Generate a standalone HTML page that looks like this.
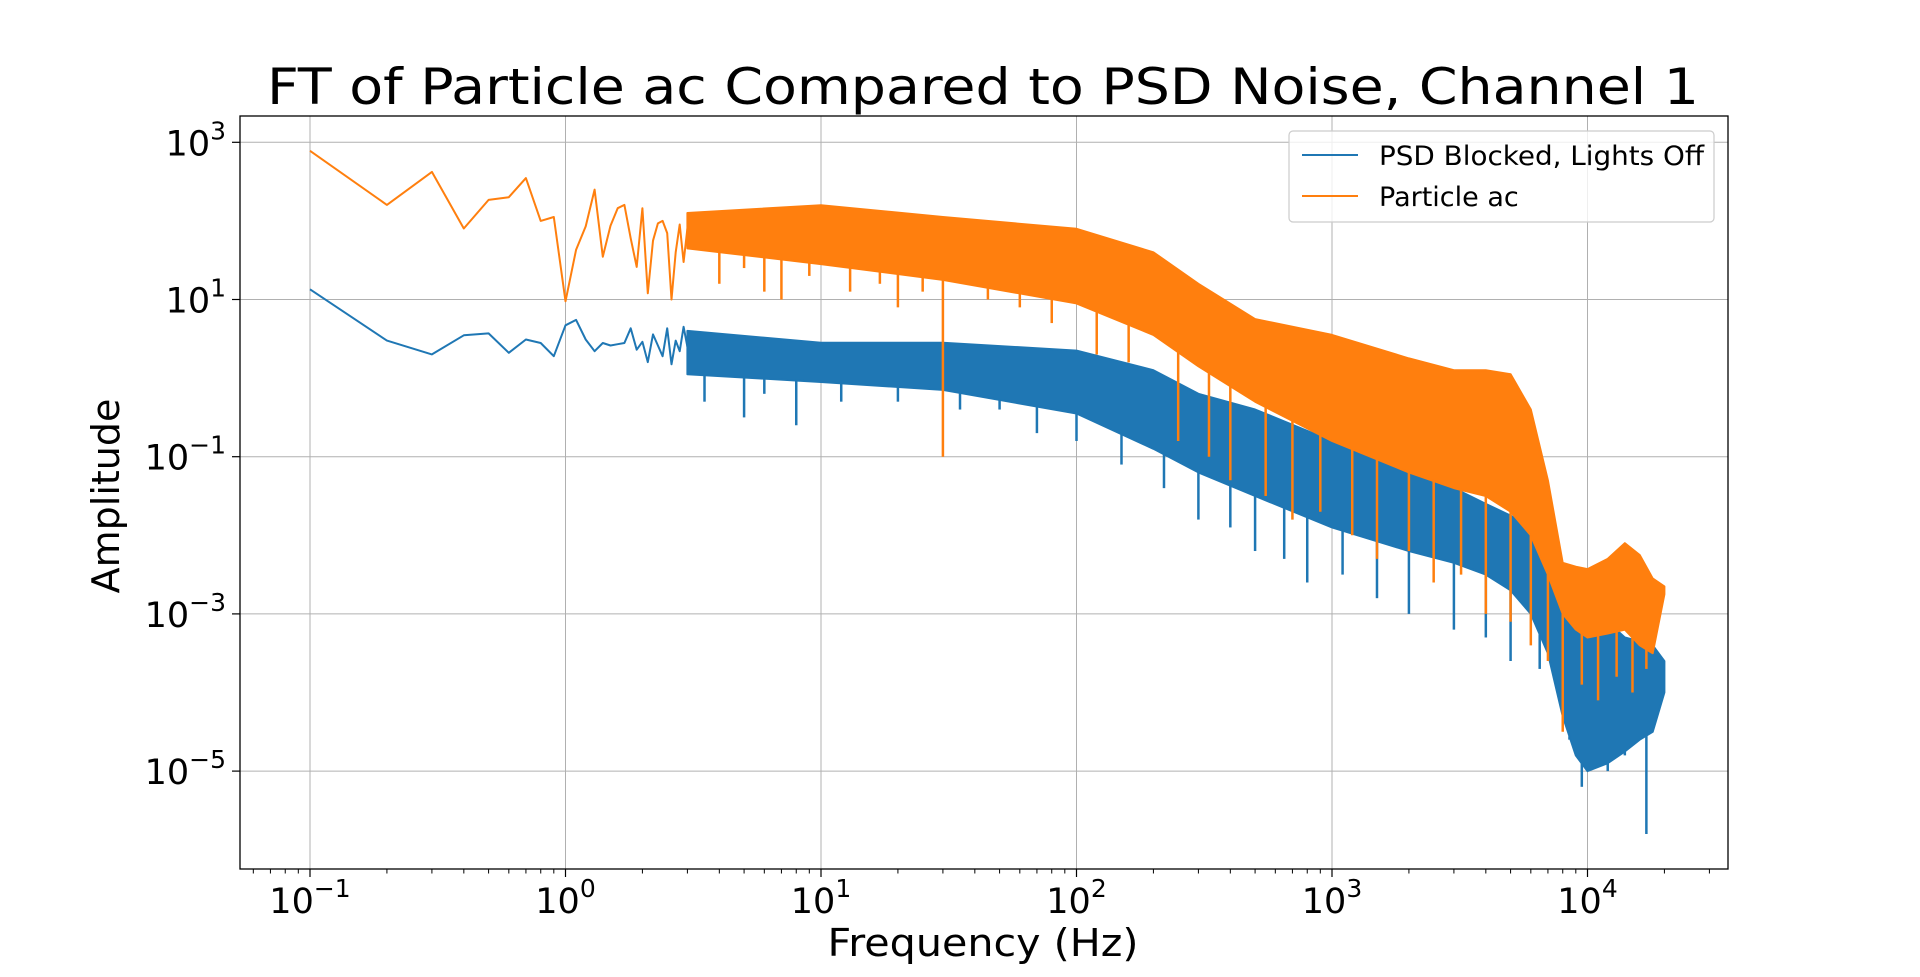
<!DOCTYPE html>
<html><head><meta charset="utf-8"><style>
html,body{margin:0;padding:0;background:#fff;}
svg{display:block;font-family:"DejaVu Sans","Liberation Sans",sans-serif;}
</style></head><body>
<svg id="chart" width="1920" height="977" viewBox="0 0 1920 977" xmlns="http://www.w3.org/2000/svg">
<rect width="1920" height="977" fill="#fff"/>
<text x="983" y="104" font-size="50" text-anchor="middle" textLength="1432" lengthAdjust="spacingAndGlyphs">FT of Particle ac Compared to PSD Noise, Channel 1</text>
<g id="grid"></g>
<g id="plot"></g>
<g id="axes"></g>
<text x="983" y="956" font-size="38" text-anchor="middle" textLength="311" lengthAdjust="spacingAndGlyphs">Frequency (Hz)</text>
<text transform="translate(119,496) rotate(-90)" font-size="38" text-anchor="middle">Amplitude</text>
<g>
<rect x="1289" y="131" width="425" height="91" rx="4" fill="#fff" fill-opacity="0.8" stroke="#ccc" stroke-width="1.2"/>
<line x1="1302" y1="155" x2="1358" y2="155" stroke="#1f77b4" stroke-width="2"/>
<text x="1379" y="165" font-size="27" textLength="325" lengthAdjust="spacingAndGlyphs">PSD Blocked, Lights Off</text>
<line x1="1302" y1="196" x2="1358" y2="196" stroke="#ff7f0e" stroke-width="2"/>
<text x="1379" y="206" font-size="27">Particle ac</text>
</g>
</svg>
<script>
// ---- data ----
const xTickExps = [-1, 0, 1, 2, 3, 4];
const yTickExps = [3, 1, -1, -3, -5];
const orangeLowF = [0.1,0.2,0.3,0.4,0.5,0.6,0.7,0.8,0.9,1.0,1.1,1.2,1.3,1.4,1.5,1.6,1.7,1.8,1.9,2.0,2.1,2.2,2.3,2.4,2.5,2.6,2.7,2.8,2.9,3.0];
const orangeLowA = [780,160,420,80,185,200,350,100,112,9.5,43,85,250,35,87,145,160,60,26,145,12,56,93,100,70,10,40,90,30,80];
const blueLowF = [0.1,0.2,0.3,0.4,0.5,0.6,0.7,0.8,0.9,1.0,1.1,1.2,1.3,1.4,1.5,1.6,1.7,1.8,1.9,2.0,2.1,2.2,2.3,2.4,2.5,2.6,2.7,2.8,2.9,3.0];
const blueLowA = [13.5,3,2.0,3.5,3.7,2.1,3.1,2.8,1.9,4.7,5.5,3.1,2.2,2.8,2.6,2.7,2.8,4.3,2.3,2.9,1.6,3.6,2.6,1.9,4.3,1.5,3.0,2.2,4.5,2.5];
const envF = [3,10,30,100,200,300,500,1000,2000,3000,4000,5000,6000,7000,8000,9000,10000,12000,14000,16000,18000,20000];
const orangeUpper = [2.1,2.2,2.05,1.9,1.6,1.2,0.75,0.55,0.25,0.1,0.1,0.05,-0.4,-1.3,-2.35,-2.4,-2.43,-2.3,-2.1,-2.25,-2.55,-2.65];
const orangeLower = [1.65,1.45,1.25,0.95,0.55,0.15,-0.3,-0.8,-1.2,-1.4,-1.5,-1.7,-2.0,-2.5,-3.0,-3.2,-3.3,-3.25,-3.2,-3.4,-3.5,-2.75];
const blueUpper = [0.6,0.45,0.45,0.35,0.1,-0.2,-0.4,-0.8,-1.2,-1.4,-1.6,-1.75,-1.9,-2.2,-2.5,-2.8,-3.0,-3.1,-3.3,-3.35,-3.4,-3.6];
const blueLower = [0.05,-0.05,-0.15,-0.45,-0.9,-1.2,-1.5,-1.9,-2.2,-2.35,-2.5,-2.7,-3.0,-3.5,-4.3,-4.8,-5.0,-4.9,-4.75,-4.6,-4.5,-4.0];
const orangeSpikeF = [4,5,6,7,9,13,17,20,25,30,45,60,80,120,160,250,330,400,550,700,900,1200,1500,2000,2500,3200,4000,5000,6000,7000,8000,9500,11000,13000,15000,17000];
const orangeSpikeV = [1.2,1.4,1.1,1.0,1.3,1.1,1.2,0.9,1.1,-1.0,1.0,0.9,0.7,0.3,0.2,-0.8,-1.0,-1.3,-1.5,-1.8,-1.7,-2.0,-2.3,-2.2,-2.6,-2.5,-3.0,-3.1,-3.4,-3.6,-4.5,-3.9,-4.1,-3.8,-4.0,-3.7];
const blueSpikeF = [3.5,5,6,8,12,20,35,50,70,100,150,220,300,400,500,650,800,1100,1500,2000,3000,4000,5000,6500,8500,9500,11000,12000,14000,17000];
const blueSpikeV = [-0.3,-0.5,-0.2,-0.6,-0.3,-0.3,-0.4,-0.4,-0.7,-0.8,-1.1,-1.4,-1.8,-1.9,-2.2,-2.3,-2.6,-2.5,-2.8,-3.0,-3.2,-3.3,-3.6,-3.7,-4.6,-5.2,-4.9,-5.0,-4.8,-5.8];

// ---- axes ----
const L=240,R=1728,T=116,B=869;
const X0=310, DX=255.5, Y3=142.3, DY=78.6;
const xs = f => X0 + (Math.log10(f)+1)*DX;
const ysL = v => Y3 + (3-v)*DY;
const ys = a => ysL(Math.log10(a));
const NS="http://www.w3.org/2000/svg";
function mk(tag, attrs, parent){const e=document.createElementNS(NS,tag);for(const k in attrs)e.setAttribute(k,attrs[k]);parent.appendChild(e);return e;}
const grid=document.getElementById('grid'), plot=document.getElementById('plot'), axes=document.getElementById('axes');

xTickExps.forEach(e=>{
  const x=xs(Math.pow(10,e));
  const g=mk('line',{x1:x,y1:T,x2:x,y2:B,stroke:'#b0b0b0','stroke-width':1},grid);
  
  
  const t=mk('line',{x1:x,y1:B,x2:x,y2:B+8,stroke:'#000','stroke-width':1.2},axes);
  
  
  const lab=mk('text',{x:x,y:913,'font-size':35,'text-anchor':'middle'},axes);
  
  
  lab.innerHTML='10<tspan dy="-16" font-size="25">'+(e<0?'\u2212'+(-e):e)+'</tspan>';
});
for(let e=-2;e<=4;e++){for(let m=2;m<=9;m++){const x=xs(m*Math.pow(10,e));if(x<L||x>R)continue;
  const t=mk('line',{x1:x,y1:B,x2:x,y2:B+4.5,stroke:'#000','stroke-width':1},axes);
  
  }}
yTickExps.forEach(e=>{
  const y=ysL(e);
  const g=mk('line',{x1:L,y1:y,x2:R,y2:y,stroke:'#b0b0b0','stroke-width':1},grid);
  
  
  const t=mk('line',{x1:L-8,y1:y,x2:L,y2:y,stroke:'#000','stroke-width':1.2},axes);
  
  
  const lab=mk('text',{x:226,y:y+13,'font-size':35,'text-anchor':'end'},axes);
  
  
  lab.innerHTML='10<tspan dy="-16" font-size="25">'+(e<0?'\u2212'+(-e):e)+'</tspan>';
});
const frame=mk('rect',{x:L,y:T,width:R-L,height:B-T,fill:'none',stroke:'#000','stroke-width':1.3},axes);



function series(lowF,lowA,up,lo,spF,spV,color,name){
  const g=mk('g',{},plot);
  
  
  const pts=lowF.map((f,i)=>xs(f).toFixed(1)+','+ys(lowA[i]).toFixed(1)).join(' ');
  const pl=mk('polyline',{points:pts,fill:'none',stroke:color,'stroke-width':2,'stroke-linejoin':'round'},g);
  
  
  let d='M'+envF.map((f,i)=>xs(f).toFixed(1)+','+ysL(up[i]).toFixed(1)).join(' L');
  for(let i=envF.length-1;i>=0;i--) d+=' L'+xs(envF[i]).toFixed(1)+','+ysL(lo[i]).toFixed(1);
  d+='Z';
  const band=mk('path',{d:d,fill:color,stroke:color,'stroke-width':2,'stroke-linejoin':'round'},g);
  
  
  spF.forEach((f,i)=>{
    const lf=Math.log10(f);let top=lo[0];
    for(let k=0;k<envF.length-1;k++){const a=Math.log10(envF[k]),b=Math.log10(envF[k+1]);if(lf>=a&&lf<=b){top=lo[k]+(lo[k+1]-lo[k])*(lf-a)/(b-a);}}
    const s=mk('line',{x1:xs(f),y1:ysL(top),x2:xs(f),y2:ysL(spV[i]),stroke:color,'stroke-width':2.5},g);
    
    
  });
}
series(blueLowF,blueLowA,blueUpper,blueLower,blueSpikeF,blueSpikeV,'#1f77b4','psd-series');
series(orangeLowF,orangeLowA,orangeUpper,orangeLower,orangeSpikeF,orangeSpikeV,'#ff7f0e','particle-series');
</script>
</body></html>
